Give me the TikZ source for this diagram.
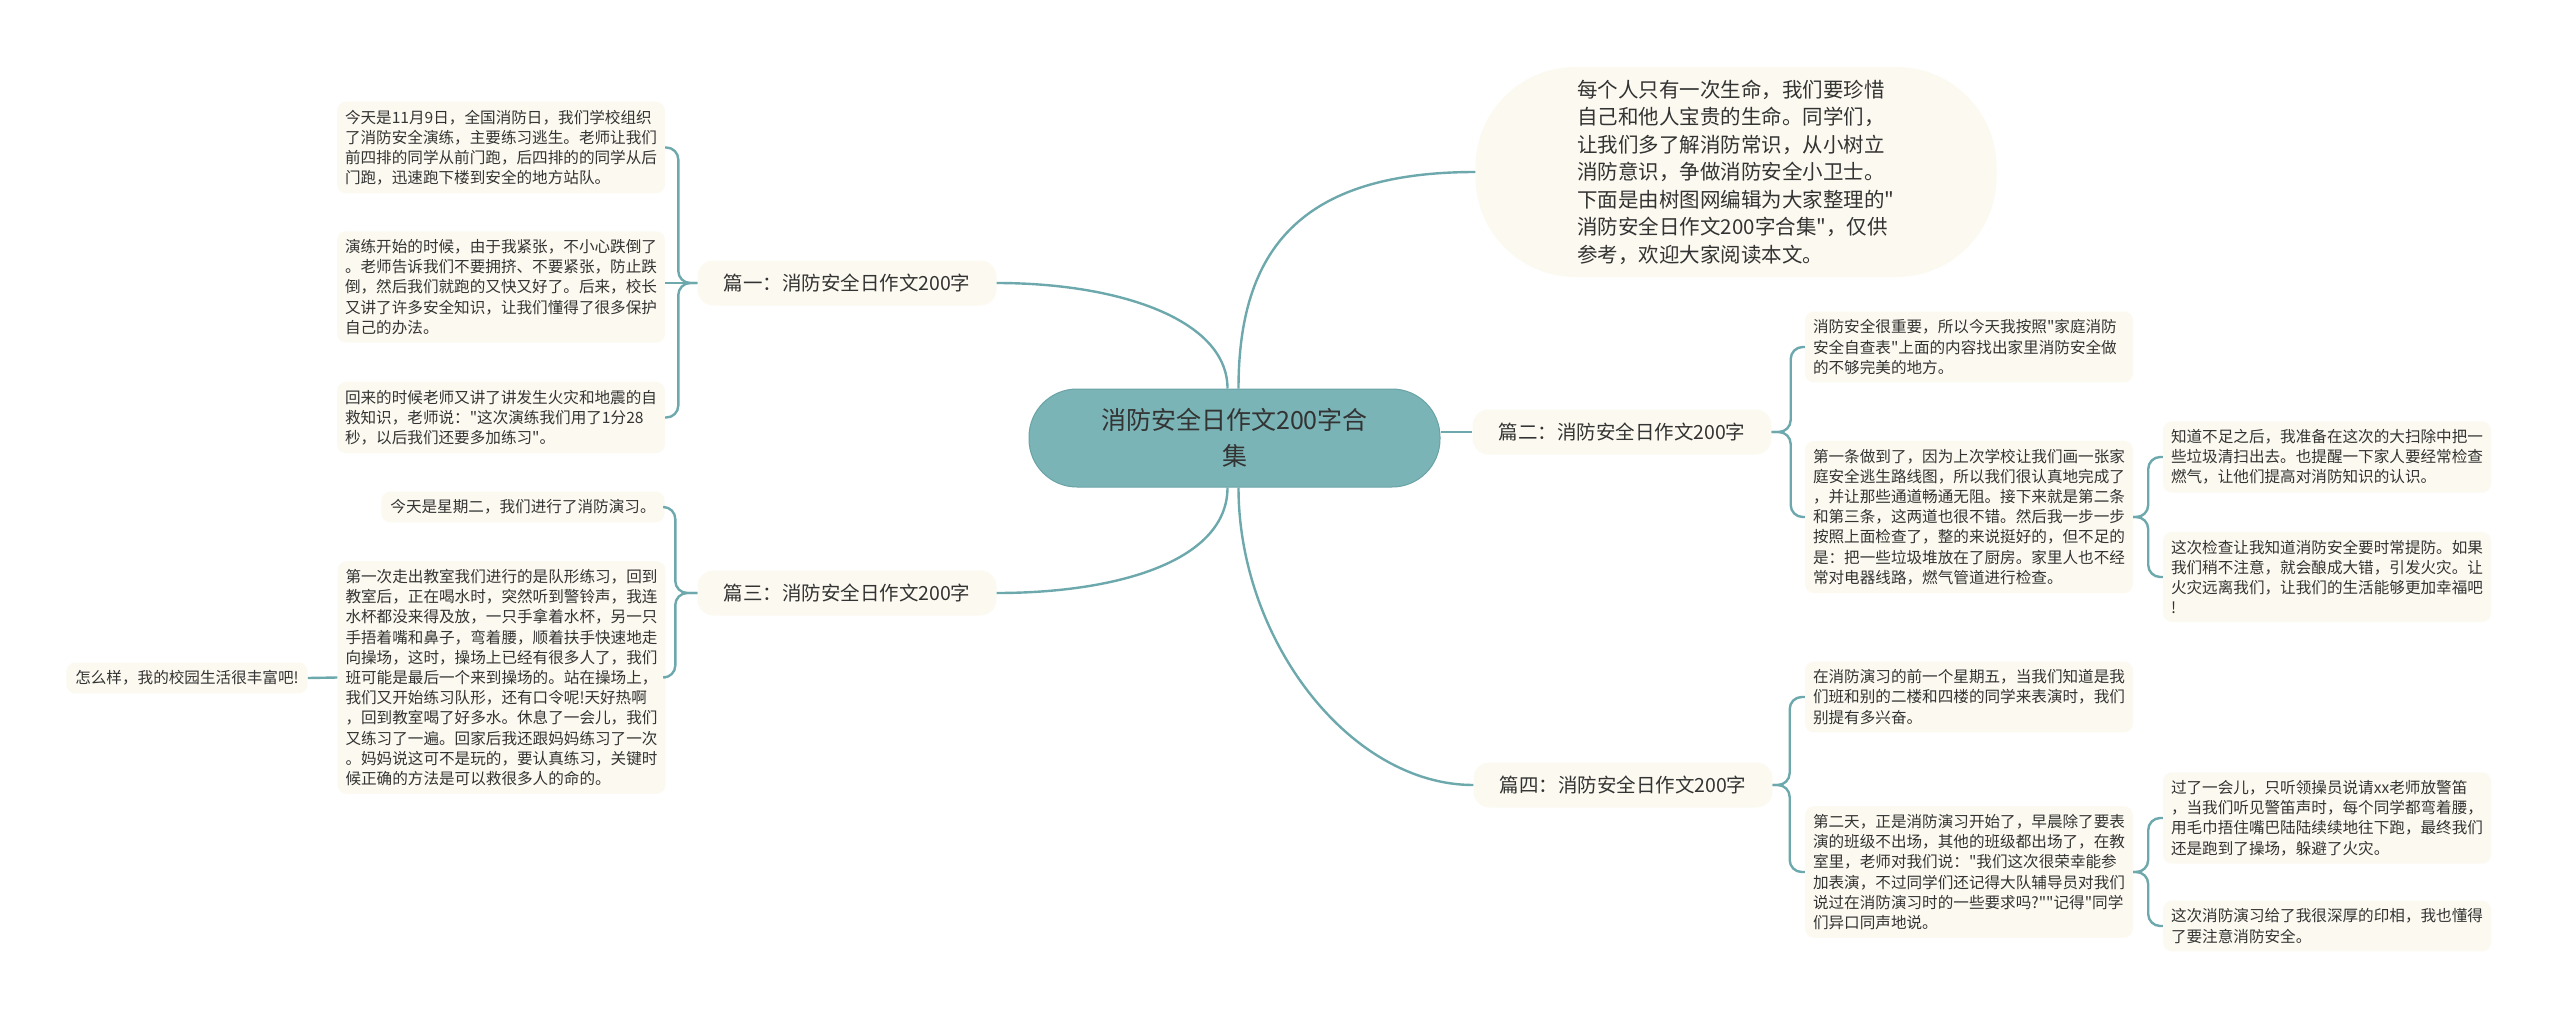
\documentclass[tikz,border=0pt]{standalone}
\usepackage{fontspec}
\setmainfont{Noto Sans CJK SC}[Ligatures=TeXOff]
\usetikzlibrary{calc}
\definecolor{teal1}{HTML}{7BB4B6}
\definecolor{tealb}{HTML}{6AA3A6}
\definecolor{linec}{HTML}{6CA8AC}
\definecolor{cream}{HTML}{FCFAF0}
\definecolor{txt}{HTML}{333333}
\tikzset{
  conn/.style={draw=linec,line width=2.4pt,rounded corners=12pt},
  leaf/.style={fill=cream,rounded corners=9pt,text=txt,text width=312pt,align=left,
    inner xsep=8pt,inner ysep=8pt,font=\fontsize{15.6}{20.2}\selectfont},
  oneline/.style={fill=cream,rounded corners=9pt,text=txt,
    inner xsep=9pt,inner ysep=8pt,font=\fontsize{15.6}{20.2}\selectfont},
  branch/.style={fill=cream,rounded corners=16pt,text=txt,minimum width=299pt,minimum height=45pt,
    inner sep=0pt,font=\fontsize{19.5}{24}\selectfont},
  centre/.style={fill=teal1,draw=tealb,line width=1pt,rounded corners=48pt,text=txt,
    minimum width=411pt,minimum height=98pt,align=center,font=\fontsize{25}{36}\selectfont},
  intro/.style={fill=cream,rounded corners=100pt,text=txt,minimum width=521pt,minimum height=210pt,
    align=left,font=\fontsize{20.5}{27.5}\selectfont},
}
\begin{document}
\begin{tikzpicture}[x=1pt,y=-1pt]
\useasboundingbox (0,0) rectangle (2560,1023);
\fill[white] (0,0) rectangle (2560,1023);

% centre
\node[centre] (c) at (1234.5,438) {消防安全日作文200字合\\集};

% intro
\node[intro] (in) at (1736,172) {每个人只有一次生命，我们要珍惜\\自己和他人宝贵的生命。同学们，\\让我们多了解消防常识，从小树立\\消防意识，争做消防安全小卫士。\\下面是由树图网编辑为大家整理的"\\消防安全日作文200字合集"，仅供\\参考，欢迎大家阅读本文。};

% branches
\node[branch] (b1) at (847,283) {篇一：消防安全日作文200字};
\node[branch] (b2) at (1622,432) {篇二：消防安全日作文200字};
\node[branch] (b3) at (847,593) {篇三：消防安全日作文200字};
\node[branch] (b4) at (1623,785) {篇四：消防安全日作文200字};

% 篇一 leaves
\node[leaf] (l1a) at (501,147.5) {今天是11月9日，全国消防日，我们学校组织\\了消防安全演练，主要练习逃生。老师让我们\\前四排的同学从前门跑，后四排的的同学从后\\门跑，迅速跑下楼到安全的地方站队。};
\node[leaf] (l1b) at (501,287) {演练开始的时候，由于我紧张，不小心跌倒了\\。老师告诉我们不要拥挤、不要紧张，防止跌\\倒，然后我们就跑的又快又好了。后来，校长\\又讲了许多安全知识，让我们懂得了很多保护\\自己的办法。};
\node[leaf] (l1c) at (501,417.5) {回来的时候老师又讲了讲发生火灾和地震的自\\救知识，老师说："这次演练我们用了1分28\\秒，以后我们还要多加练习"。};

% 篇三 leaves
\node[oneline] (l3a) at (523,507) {今天是星期二，我们进行了消防演习。};
\node[leaf] (l3b) at (501.5,677.5) {第一次走出教室我们进行的是队形练习，回到\\教室后，正在喝水时，突然听到警铃声，我连\\水杯都没来得及放，一只手拿着水杯，另一只\\手捂着嘴和鼻子，弯着腰，顺着扶手快速地走\\向操场，这时，操场上已经有很多人了，我们\\班可能是最后一个来到操场的。站在操场上，\\我们又开始练习队形，还有口令呢!天好热啊\\，回到教室喝了好多水。休息了一会儿，我们\\又练习了一遍。回家后我还跟妈妈练习了一次\\。妈妈说这可不是玩的，要认真练习，关键时\\候正确的方法是可以救很多人的命的。};
\node[oneline] (l3c) at (187,678) {怎么样，我的校园生活很丰富吧!};

% 篇二 leaves
\node[leaf] (l2a) at (1969,347) {消防安全很重要，所以今天我按照"家庭消防\\安全自查表"上面的内容找出家里消防安全做\\的不够完美的地方。};
\node[leaf] (l2b) at (1969,517) {第一条做到了，因为上次学校让我们画一张家\\庭安全逃生路线图，所以我们很认真地完成了\\，并让那些通道畅通无阻。接下来就是第二条\\和第三条，这两道也很不错。然后我一步一步\\按照上面检查了，整的来说挺好的，但不足的\\是：把一些垃圾堆放在了厨房。家里人也不经\\常对电器线路，燃气管道进行检查。};
\node[leaf] (l2c) at (2327,457) {知道不足之后，我准备在这次的大扫除中把一\\些垃圾清扫出去。也提醒一下家人要经常检查\\燃气，让他们提高对消防知识的认识。};
\node[leaf] (l2d) at (2327,577) {这次检查让我知道消防安全要时常提防。如果\\我们稍不注意，就会酿成大错，引发火灾。让\\火灾远离我们，让我们的生活能够更加幸福吧\\!};

% 篇四 leaves
\node[leaf] (l4a) at (1969,697) {在消防演习的前一个星期五，当我们知道是我\\们班和别的二楼和四楼的同学来表演时，我们\\别提有多兴奋。};
\node[leaf] (l4b) at (1969,872) {第二天，正是消防演习开始了，早晨除了要表\\演的班级不出场，其他的班级都出场了，在教\\室里，老师对我们说："我们这次很荣幸能参\\加表演，不过同学们还记得大队辅导员对我们\\说过在消防演习时的一些要求吗?""记得"同学\\们异口同声地说。};
\node[leaf] (l4c) at (2327,818) {过了一会儿，只听领操员说请xx老师放警笛\\，当我们听见警笛声时，每个同学都弯着腰，\\用毛巾捂住嘴巴陆陆续续地往下跑，最终我们\\还是跑到了操场，躲避了火灾。};
\node[leaf] (l4d) at (2327,926) {这次消防演习给了我很深厚的印相，我也懂得\\了要注意消防安全。};

% main connectors
\draw[conn] ([xshift=4pt]c.north) .. controls (1238.5,250) and (1300,172) .. (in.west);
\draw[conn] ([xshift=-7pt]c.north) .. controls (1227.5,320) and (1120,283) .. (b1.east);
\draw[conn] (c.east |- b2.west) -- (b2.west);
\draw[conn] ([xshift=-7pt]c.south) .. controls (1227.5,560) and (1120,593) .. (b3.east);
\draw[conn] ([xshift=4pt]c.south) .. controls (1238.5,640) and (1350,785) .. (b4.west);

% 篇一 bracket
\draw[conn] (b1.west) -- ++(-19,0) |- (l1a.east);
\draw[conn] (b1.west) -- ++(-19,0) |- (l1c.east);
\draw[conn] (b1.west) -- (l1b.east |- b1.west);

% 篇三 bracket
\draw[conn] (b3.west) -- ++(-22,0) |- (l3a.east);
\draw[conn] (b3.west) -- ++(-22,0) |- (l3b.east);
\draw[conn] (l3b.west) -- (l3c.east);

% 篇二 bracket
\draw[conn] (b2.east) -- ++(19,0) |- (l2a.west);
\draw[conn] (b2.east) -- ++(19,0) |- (l2b.west);
\draw[conn] (l2b.east) -- ++(15,0) |- (l2c.west);
\draw[conn] (l2b.east) -- ++(15,0) |- (l2d.west);

% 篇四 bracket
\draw[conn] (b4.east) -- ++(17,0) |- (l4a.west);
\draw[conn] (b4.east) -- ++(17,0) |- (l4b.west);
\draw[conn] (l4b.east) -- ++(15,0) |- (l4c.west);
\draw[conn] (l4b.east) -- ++(15,0) |- (l4d.west);
\end{tikzpicture}
\end{document}
